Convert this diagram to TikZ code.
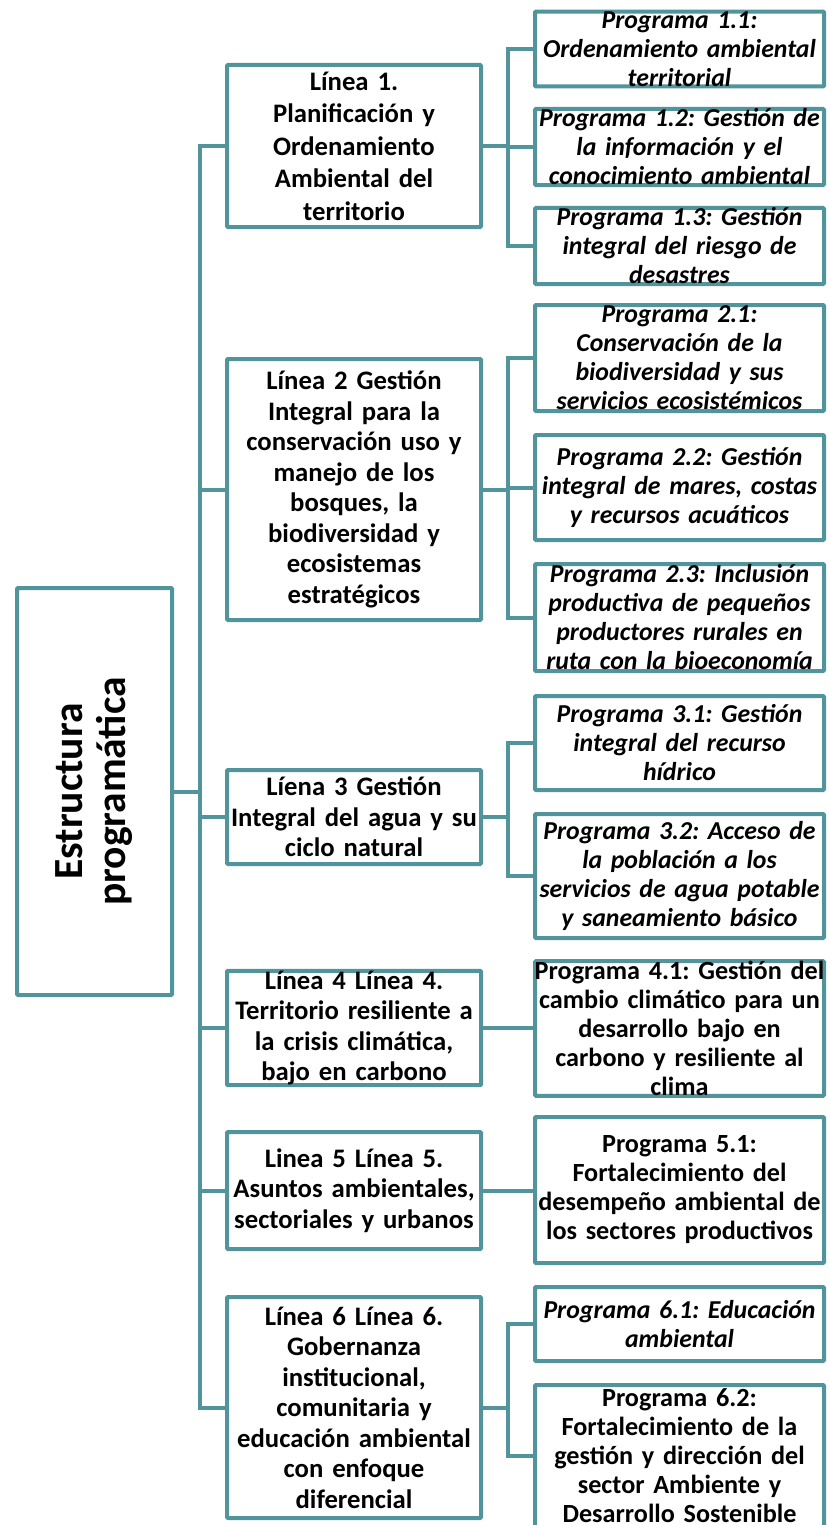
\documentclass[tikz,border=0pt]{standalone}
\usepackage{fontspec}
\setmainfont{Carlito}
\usetikzlibrary{calc}
\definecolor{tealc}{RGB}{82,148,156}
\frenchspacing
\begin{document}
\begin{tikzpicture}[x=1pt,y=-1pt,
  box/.style={draw=tealc, line width=4pt, fill=white, rounded corners=1pt, inner ysep=0pt, align=center},
  ebox/.style={box, inner xsep=0pt, minimum width=155pt, minimum height=407pt, font=\bfseries\fontsize{41.5}{47}\selectfont},
  lbox/.style={box, text width=274pt, inner xsep=-10pt, font=\bfseries\fontsize{26.7}{30.5}\selectfont},
  pbox/.style={box, text width=309pt, inner xsep=-10pt, font=\bfseries\itshape\fontsize{25.8}{29}\selectfont},
  pup/.style={pbox, font=\bfseries\fontsize{26.2}{29}\selectfont},
  conn/.style={draw=tealc, line width=4pt, line join=miter}]
\useasboundingbox (0,0) rectangle (828,1525);

% root
\node[ebox] (E) at (94.5,791.5) {\rotatebox{90}{\begin{tabular}{@{}c@{}}Estructura\\[-4pt]programática\end{tabular}}};

% lines
\node[lbox, minimum height=162pt, font=\bfseries\fontsize{26.7}{32.5}\selectfont] (L1) at (354,146) {Línea 1.\\Planificación y\\Ordenamiento\\Ambiental del\\territorio};
\node[lbox, minimum height=261pt] (L2) at (354,489.5) {Línea 2 Gestión\\Integral para la\\conservación uso y\\manejo de los\\bosques, la\\biodiversidad y\\ecosistemas\\estratégicos};
\node[lbox, minimum height=94pt] (L3) at (354,817) {Líena 3 Gestión\\Integral del agua y su\\ciclo natural};
\node[lbox, minimum height=114pt] (L4) at (354,1028) {Línea 4 Línea 4.\\Territorio resiliente a\\la crisis climática,\\bajo en carbono};
\node[lbox, minimum height=117pt] (L5) at (354,1190.5) {Linea 5 Línea 5.\\Asuntos ambientales,\\sectoriales y urbanos};
\node[lbox, minimum height=221pt] (L6) at (354,1407.5) {Línea 6 Línea 6.\\Gobernanza\\institucional,\\comunitaria y\\educación ambiental\\con enfoque\\diferencial};

% programs
\node[pbox, minimum height=74pt] (P11) at (679.5,49) {Programa 1.1:\\Ordenamiento ambiental\\territorial};
\node[pbox, minimum height=76pt] (P12) at (679.5,147) {Programa 1.2: Gestión de\\la información y el\\conocimiento ambiental};
\node[pbox, minimum height=74pt] (P13) at (679.5,246) {Programa 1.3: Gestión\\integral del riesgo de\\desastres};
\node[pbox, minimum height=106pt] (P21) at (679.5,358) {Programa 2.1:\\Conservación de la\\biodiversidad y sus\\servicios ecosistémicos};
\node[pbox, minimum height=105pt] (P22) at (679.5,487.5) {Programa 2.2: Gestión\\integral de mares, costas\\y recursos acuáticos};
\node[pbox, minimum height=107pt] (P23) at (679.5,617.5) {Programa 2.3: Inclusión\\productiva de pequeños\\productores rurales en\\ruta con la bioeconomía};
\node[pbox, minimum height=94pt] (P31) at (679.5,743) {Programa 3.1: Gestión\\integral del recurso\\hídrico};
\node[pbox, minimum height=124pt] (P32) at (679.5,876) {Programa 3.2: Acceso de\\la población a los\\servicios de agua potable\\y saneamiento básico};
\node[pup, minimum height=133pt] (P41) at (679.5,1028.5) {Programa 4.1: Gestión del\\cambio climático para un\\desarrollo bajo en\\carbono y resiliente al\\clima};
\node[pup, minimum height=146pt] (P51) at (679.5,1190) {Programa 5.1:\\Fortalecimiento del\\desempeño ambiental de\\los sectores productivos};
\node[pbox, minimum height=74pt] (P61) at (679.5,1324) {Programa 6.1: Educación\\ambiental};
\node[pup, minimum height=142pt] (P62) at (679.5,1456) {Programa 6.2:\\Fortalecimiento de la\\gestión y dirección del\\sector Ambiente y\\Desarrollo Sostenible};

% main trunk
\draw[conn] (E.east) -- ++(26,0) coordinate (t);
\draw[conn] (L1.west) -| (t |- L6.west) -- (L6.west);
\foreach \n in {L2,L3,L4,L5} { \draw[conn] (t |- \n.west) -- (\n.west); }

% group 1
\draw[conn] (L1.east) -- ++(25,0) coordinate (s1);
\draw[conn] (P11.west) -| (s1 |- P13.west) -- (P13.west);
\draw[conn] (s1 |- P12.west) -- (P12.west);
% group 2
\draw[conn] (L2.east) -- ++(25,0) coordinate (s2);
\draw[conn] (P21.west) -| (s2 |- P23.west) -- (P23.west);
\draw[conn] (s2 |- P22.west) -- (P22.west);
% group 3
\draw[conn] (L3.east) -- ++(25,0) coordinate (s3);
\draw[conn] (P31.west) -| (s3 |- P32.west) -- (P32.west);
% group 4, 5
\draw[conn] (L4.east) -- (L4.east -| P41.west);
\draw[conn] (L5.east) -- (L5.east -| P51.west);
% group 6
\draw[conn] (L6.east) -- ++(25,0) coordinate (s6);
\draw[conn] (P61.west) -| (s6 |- P62.west) -- (P62.west);
\end{tikzpicture}
\end{document}
